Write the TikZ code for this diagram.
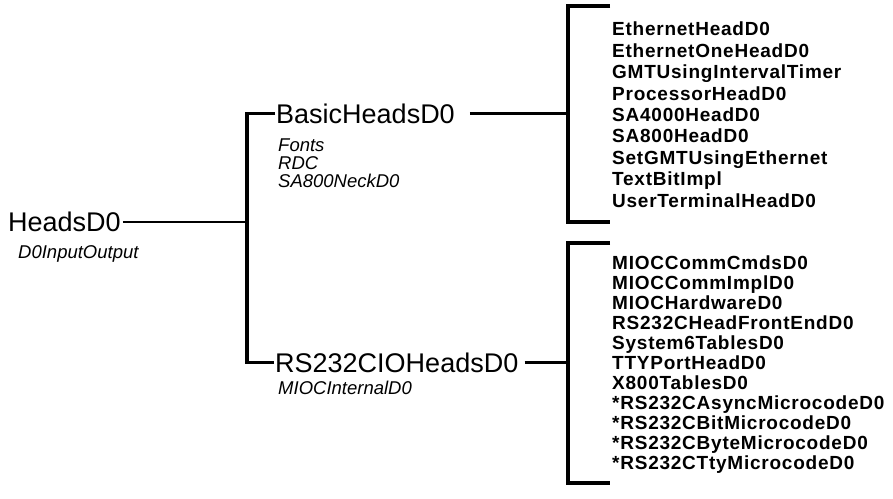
\documentclass[tikz,border=0pt]{standalone}
\usepackage{fontspec}
\setmainfont{Liberation Sans}
\newfontfamily\itemfont[LetterSpace=4.0]{Liberation Sans}
\begin{document}
\begin{tikzpicture}[x=1pt,y=-1pt,
  big/.style={font=\fontsize{27}{27}\selectfont, inner sep=0pt, anchor=base west},
  sub/.style={font=\fontsize{18.5}{18.5}\selectfont\itshape, inner sep=0pt, anchor=base west},
  item/.style={font=\itemfont\fontsize{19}{19}\selectfont\bfseries, inner sep=0pt, anchor=base west},
  conn/.style={line width=2.5pt},
  brk/.style={line width=3.5pt, line join=miter}]
\useasboundingbox[fill=white] (0,0) rectangle (893,498);
% coordinates of the bars
\coordinate (b0) at (247,0);
\coordinate (bA) at (568,0);
\coordinate (bAt) at (568,6);
\coordinate (bAb) at (568,222);
\coordinate (bBt) at (568,243);
\coordinate (bBb) at (568,483);
% root
\node[big] (heads) at (8,231.7) {HeadsD0};
\node[sub] (heads1) at (18,258.6) {D0InputOutput};
% level 1
\node[big] (basic) at (276,123) {BasicHeadsD0};
\node[sub] (basic1) at (278,151.5) {Fonts};
\node[sub] (basic2) at (278,169.5) {RDC};
\node[sub] (basic3) at (278,187.5) {SA800NeckD0};
\node[big] (rs) at (275,372) {RS232CIOHeadsD0};
\node[sub] (rs1) at (278,394.6) {MIOCInternalD0};
% connectors
\draw[conn] ([xshift=2pt]heads.east) -- (heads.east -| b0);
\draw[brk] ([xshift=-1pt]basic.west) -| (rs.west -| b0) -- ([xshift=-1pt]rs.west);
\draw[conn] ([xshift=15pt]basic.east) -- (basic.east -| bA);
\draw[conn] ([xshift=6pt]rs.east) -- (rs.east -| bA);
% brackets
\draw[brk] ([xshift=42pt]bAt) -- (bAt) -- (bAb) -- ([xshift=42pt]bAb);
\draw[brk] ([xshift=42pt]bBt) -- (bBt) -- (bBb) -- ([xshift=42pt]bBb);
% list A
\foreach \t [count=\i from 0] in {EthernetHeadD0,EthernetOneHeadD0,GMTUsingIntervalTimer,ProcessorHeadD0,SA4000HeadD0,SA800HeadD0,SetGMTUsingEthernet,TextBitImpl,UserTerminalHeadD0}
  \node[item] (a\i) at (612,35.8+21.4*\i) {\t};
% list B
\foreach \t [count=\i from 0] in {MIOCCommCmdsD0,MIOCCommImplD0,MIOCHardwareD0,RS232CHeadFrontEndD0,System6TablesD0,TTYPortHeadD0,X800TablesD0,*RS232CAsyncMicrocodeD0,*RS232CBitMicrocodeD0,*RS232CByteMicrocodeD0,*RS232CTtyMicrocodeD0}
  \node[item] (b\i) at (612,269.8+20*\i) {\t};
\end{tikzpicture}
\end{document}
